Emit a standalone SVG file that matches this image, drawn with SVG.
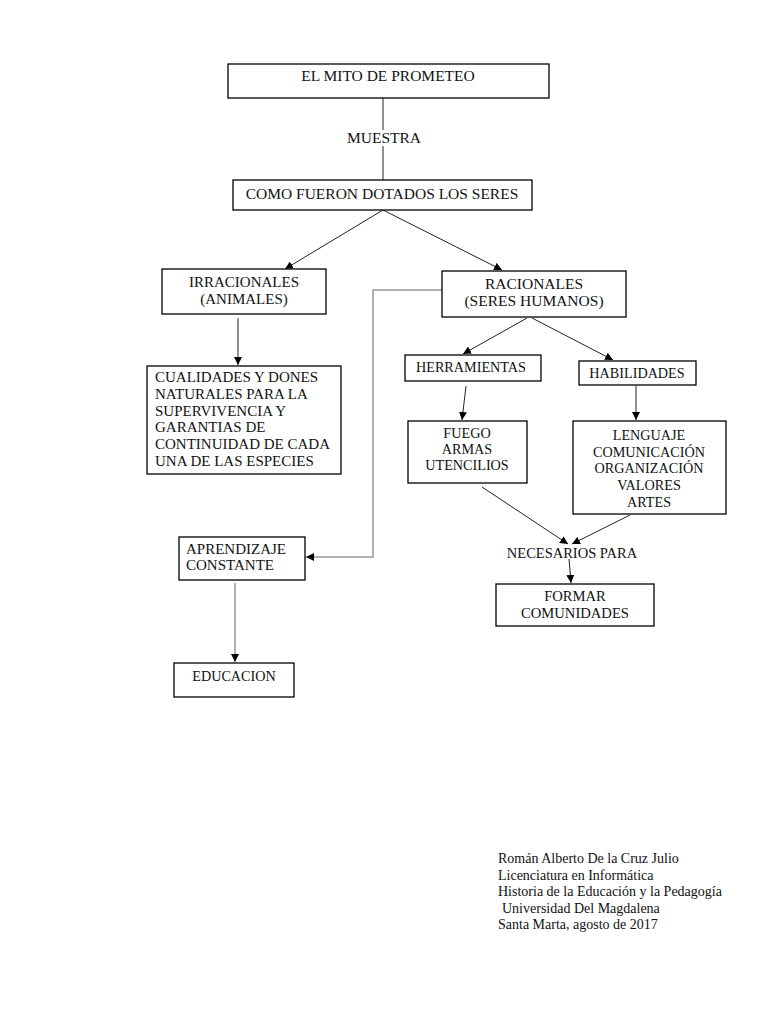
<svg xmlns="http://www.w3.org/2000/svg" width="768" height="1024" viewBox="0 0 768 1024">
<style>
.box{fill:#fff;stroke:#000;stroke-width:1.3}
.t{font-family:"Liberation Serif","Times New Roman",serif;font-size:14.2px;fill:#111}
.lg{font-size:15.5px}
.md{font-size:15px}
.c{text-anchor:middle}
.ln{stroke:#222;stroke-width:1;fill:none}
.gl{stroke:#999;stroke-width:1.5;fill:none}
.ft{font-family:"Liberation Serif","Times New Roman",serif;font-size:14px;fill:#111}
</style>
<defs>
<marker id="ah" viewBox="0 0 10 10" refX="10" refY="5" markerWidth="8" markerHeight="8" markerUnits="userSpaceOnUse" orient="auto">
<path d="M0,0 L10,5 L0,10 z" fill="#000"/>
</marker>
</defs>
<rect width="768" height="1024" fill="#fff"/>
<g id="connectors">
<line class="ln" x1="383" y1="98" x2="383" y2="130"/>
<line class="ln" x1="383" y1="146" x2="383" y2="180"/>
<line class="ln" x1="383" y1="210" x2="285" y2="269" marker-end="url(#ah)"/>
<line class="ln" x1="383" y1="210" x2="502" y2="270" marker-end="url(#ah)"/>
<line class="ln" x1="238" y1="318" x2="238" y2="365" marker-end="url(#ah)"/>
<line class="ln" x1="527" y1="318" x2="463" y2="354" marker-end="url(#ah)"/>
<line class="ln" x1="532" y1="318" x2="613" y2="360" marker-end="url(#ah)"/>
<line class="ln" x1="466" y1="386" x2="462" y2="420" marker-end="url(#ah)"/>
<line class="ln" x1="636" y1="386" x2="636" y2="420" marker-end="url(#ah)"/>
<line class="ln" x1="482" y1="487" x2="568" y2="544" marker-end="url(#ah)"/>
<line class="ln" x1="630" y1="515" x2="572" y2="544" marker-end="url(#ah)"/>
<line class="ln" x1="569" y1="559" x2="571" y2="583" marker-end="url(#ah)"/>
<polyline class="gl" points="442,290 373,290 373,557 306,557" marker-end="url(#ah)"/>
<line class="gl" x1="235" y1="583" x2="235" y2="662" marker-end="url(#ah)"/>
</g>
<g id="n-mito"><rect class="box" x="228" y="64" width="321" height="34"/><text class="t lg c" x="388" y="81">EL MITO DE PROMETEO</text></g>
<g id="l-muestra"><text class="t lg c" x="384" y="143">MUESTRA</text></g>
<g id="n-como"><rect class="box" x="233" y="180" width="299" height="30"/><text class="t lg c" x="382" y="199">COMO FUERON DOTADOS LOS SERES</text></g>
<g id="n-irr"><rect class="box" x="162" y="269" width="164" height="45"/><text class="t md c" x="244" y="287">IRRACIONALES</text><text class="t md c" x="244" y="304">(ANIMALES)</text></g>
<g id="n-rac"><rect class="box" x="442" y="271" width="184" height="46"/><text class="t lg c" x="534" y="289">RACIONALES</text><text class="t lg c" x="534" y="306">(SERES HUMANOS)</text></g>
<g id="n-cual"><rect class="box" x="147" y="366" width="194" height="108"/>
<text class="t md" x="155" y="382">CUALIDADES Y DONES</text>
<text class="t md" x="155" y="399">NATURALES PARA LA</text>
<text class="t md" x="155" y="416">SUPERVIVENCIA Y</text>
<text class="t md" x="155" y="432">GARANTIAS DE</text>
<text class="t md" x="155" y="449">CONTINUIDAD DE CADA</text>
<text class="t md" x="155" y="466">UNA DE LAS ESPECIES</text></g>
<g id="n-herr"><rect class="box" x="405" y="355" width="136" height="26"/><text class="t c" x="471" y="372">HERRAMIENTAS</text></g>
<g id="n-hab"><rect class="box" x="579" y="361" width="117" height="24"/><text class="t c" x="637" y="378">HABILIDADES</text></g>
<g id="n-fuego"><rect class="box" x="408" y="421" width="119" height="62"/>
<text class="t c" x="467" y="438">FUEGO</text>
<text class="t c" x="467" y="454">ARMAS</text>
<text class="t c" x="467" y="470">UTENCILIOS</text></g>
<g id="n-leng"><rect class="box" x="573" y="421" width="153" height="93"/>
<text class="t c" x="649" y="440">LENGUAJE</text>
<text class="t c" x="649" y="457">COMUNICACIÓN</text>
<text class="t c" x="649" y="473">ORGANIZACIÓN</text>
<text class="t c" x="649" y="490">VALORES</text>
<text class="t c" x="649" y="507">ARTES</text></g>
<g id="l-nec"><text class="t c" x="572" y="558" style="font-size:14.5px">NECESARIOS PARA</text></g>
<g id="n-formar"><rect class="box" x="496" y="584" width="158" height="42"/><text class="t c" x="575" y="601" style="font-size:14.6px">FORMAR</text><text class="t c" x="575" y="618" style="font-size:14.6px">COMUNIDADES</text></g>
<g id="n-apr"><rect class="box" x="179" y="537" width="126" height="43"/><text class="t md" x="186" y="554">APRENDIZAJE</text><text class="t md" x="186" y="570">CONSTANTE</text></g>
<g id="n-edu"><rect class="box" x="174" y="663" width="120" height="34"/><text class="t c" x="234" y="681">EDUCACION</text></g>
<g id="footer">
<text class="ft" x="498" y="863">Román Alberto De la Cruz Julio</text>
<text class="ft" x="498" y="880">Licenciatura en Informática</text>
<text class="ft" x="498" y="896">Historia de la Educación y la Pedagogía</text>
<text class="ft" x="502" y="913">Universidad Del Magdalena</text>
<text class="ft" x="498" y="929">Santa Marta, agosto de 2017</text>
</g>
</svg>
